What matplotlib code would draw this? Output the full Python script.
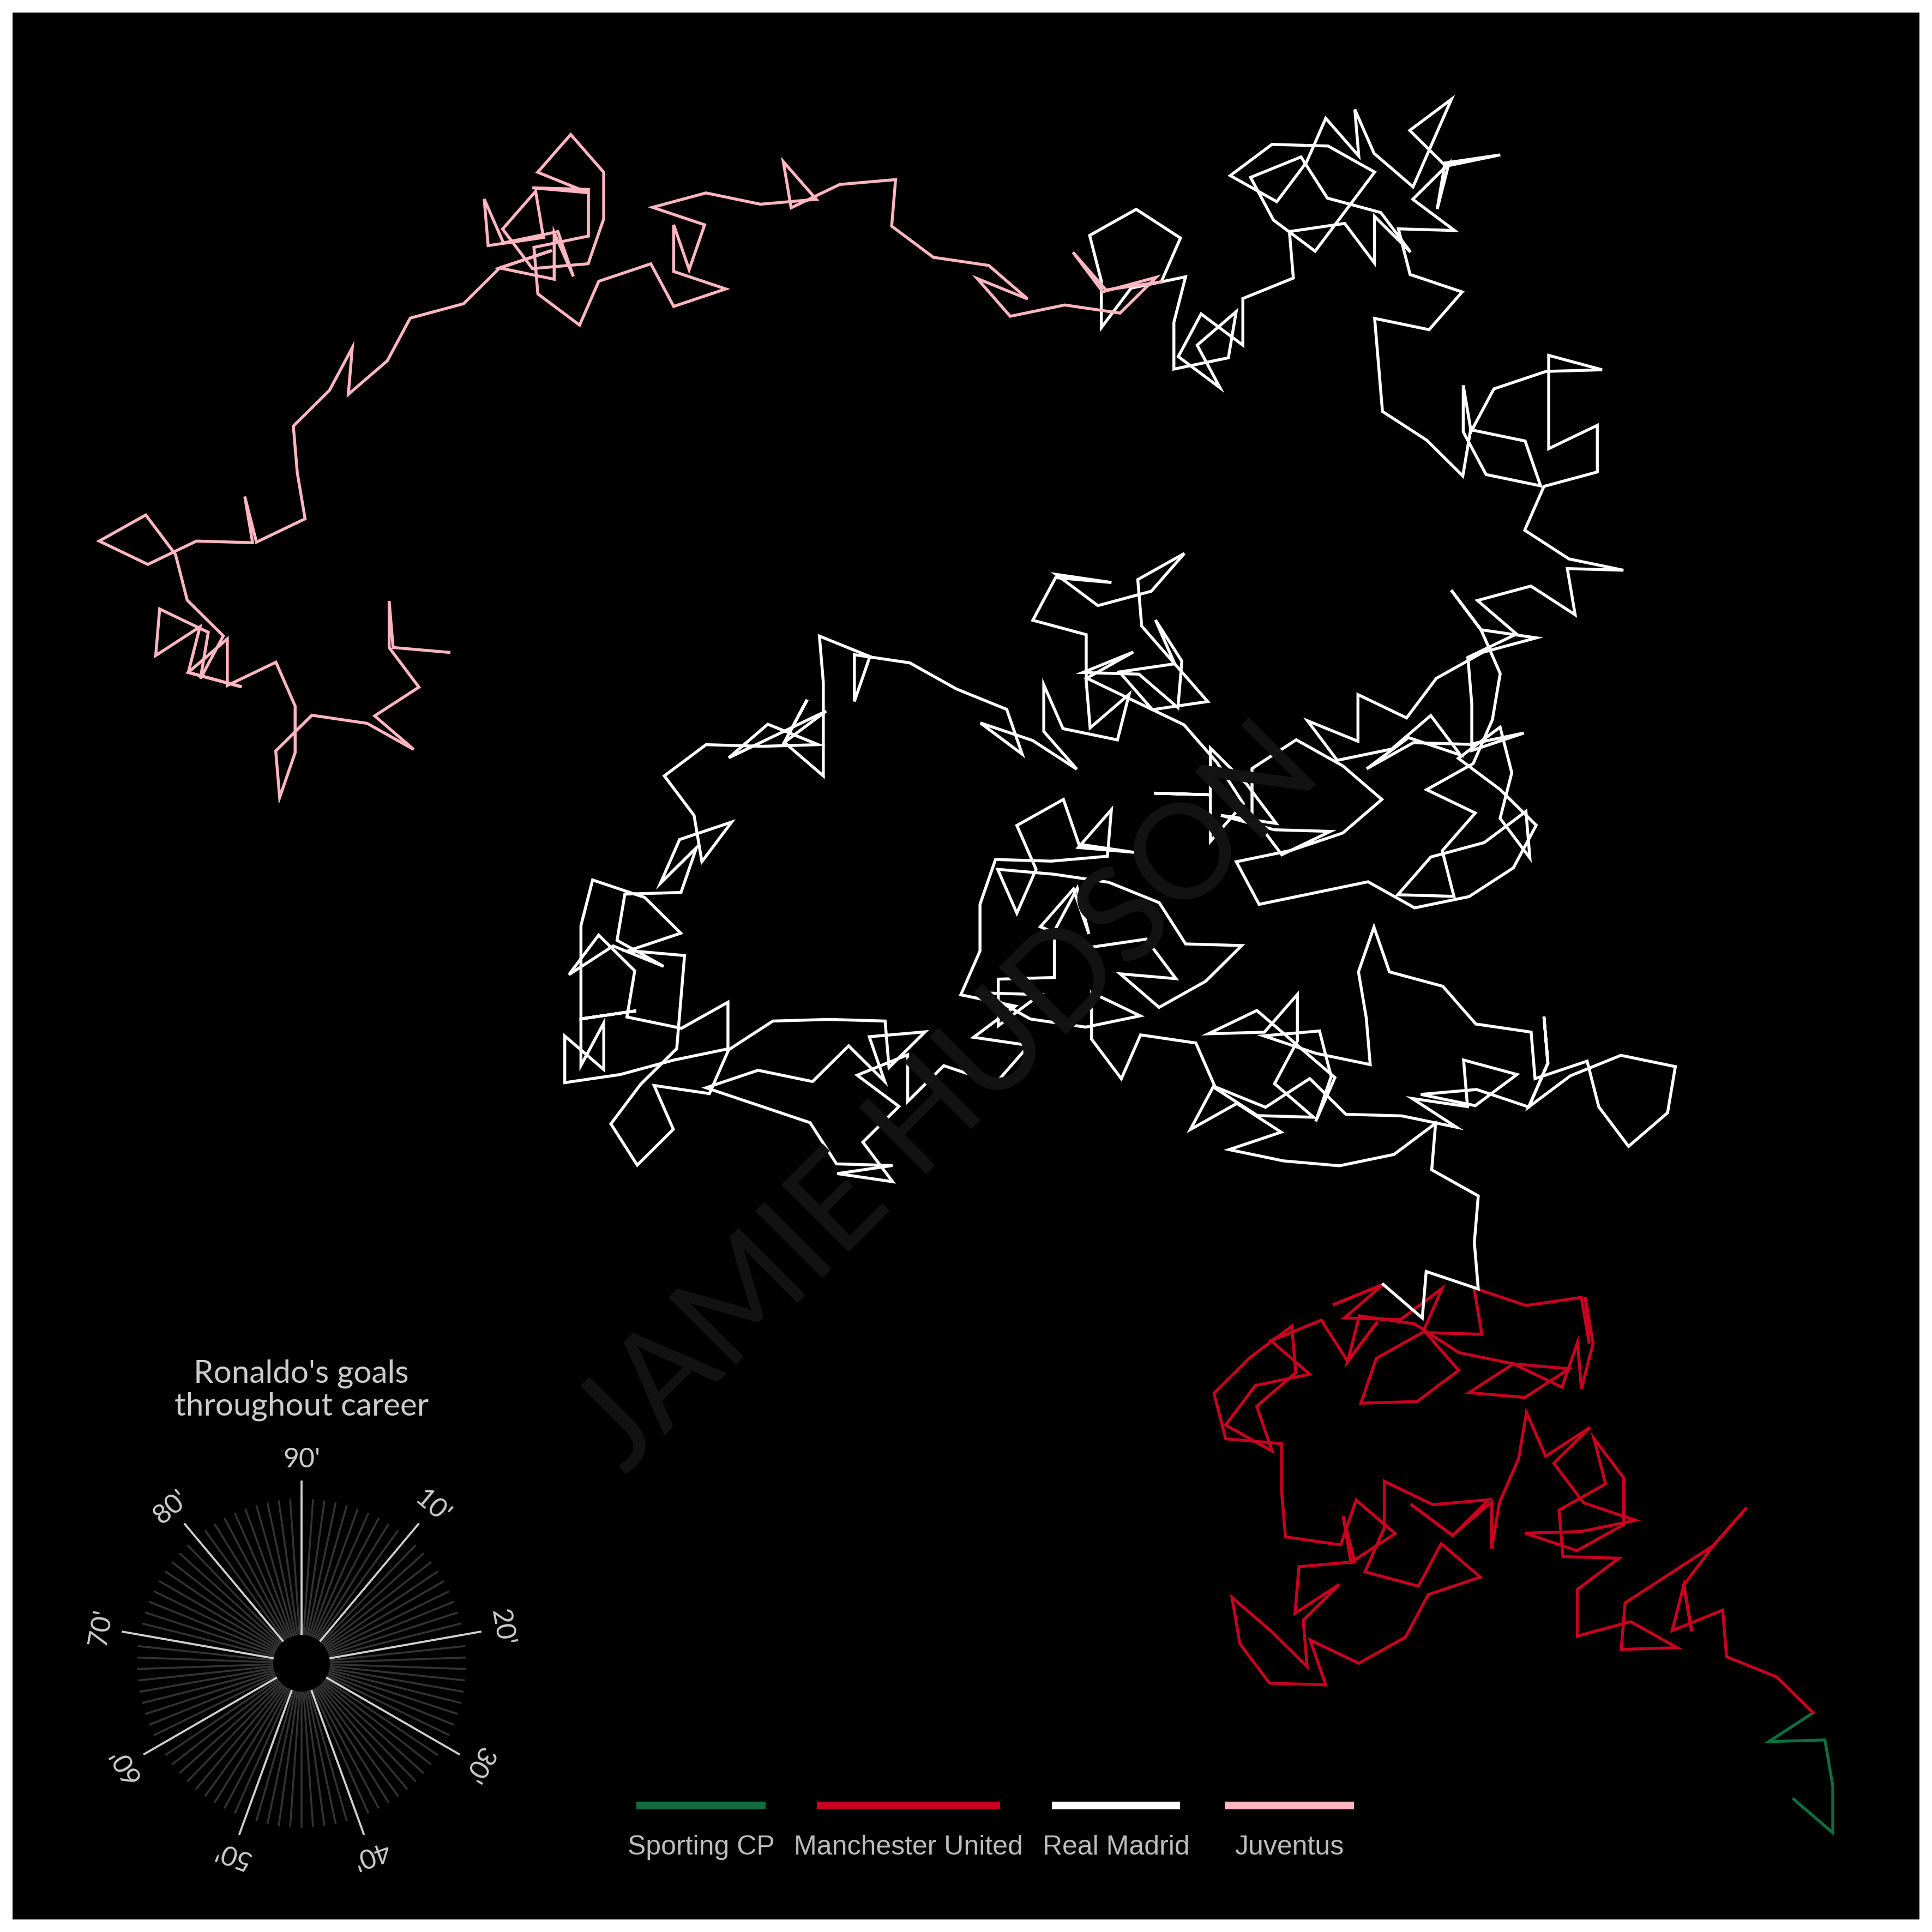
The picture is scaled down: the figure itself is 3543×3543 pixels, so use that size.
import numpy as np
import matplotlib
matplotlib.use("Agg")
import matplotlib.pyplot as plt
from matplotlib.patches import Circle

# minute of each goal, in career order (one step per goal, direction = minute on a 90' clock)
sporting_minutes = [34, 90, 88, 67, 13]
manutd_minutes = [
    80, 74, 89, 61, 3, 43, 88, 8, 9, 54, 58, 58, 46, 22, 76, 63, 90, 12, 68, 89, 14, 87, 37, 45, 59, 73, 22, 19, 73, 82,
    10, 58, 85, 47, 50, 47, 90, 56, 78, 33, 10, 66, 75, 45, 50, 27, 6, 34, 62, 51, 59, 75, 41, 68, 82, 88, 34, 35, 89, 10,
    58, 1, 21, 87, 43, 13, 79, 49, 70, 89, 90, 69, 87, 10, 12, 44, 56, 41, 76, 8, 19, 79, 16, 38, 8, 53, 3, 25, 32, 26,
    24, 58, 69, 13, 30, 4, 44, 3, 88, 44, 88, 65, 73, 43, 68, 36, 57, 67, 4, 14, 5, 57, 68, 11, 61, 16]
real_minutes = [
    34, 1, 28, 89, 1, 76, 1, 57, 64, 69, 71, 17, 77, 59, 6, 32, 23, 79, 6, 90, 54, 67, 15, 34, 34, 50, 4, 87, 66, 28,
    26, 89, 88, 4, 41, 27, 36, 25, 44, 17, 42, 37, 11, 2, 71, 61, 57, 5, 89, 44, 50, 73, 66, 26, 12, 72, 44, 70, 32, 71,
    68, 80, 58, 74, 85, 70, 50, 82, 90, 30, 64, 70, 76, 23, 57, 90, 22, 90, 6, 42, 86, 54, 29, 20, 37, 69, 34, 14, 10, 68,
    83, 74, 70, 69, 40, 5, 85, 14, 41, 25, 69, 9, 46, 66, 68, 49, 45, 50, 26, 57, 25, 54, 73, 55, 90, 61, 33, 55, 37, 70,
    20, 68, 83, 73, 73, 17, 26, 10, 35, 86, 21, 55, 89, 68, 67, 58, 50, 70, 40, 55, 83, 8, 10, 1, 1, 69, 17, 80, 73, 48,
    45, 45, 20, 65, 45, 6, 45, 79, 45, 20, 18, 19, 90, 59, 71, 2, 80, 53, 13, 29, 76, 2, 22, 4, 55, 5, 17, 53, 88, 82,
    12, 23, 22, 74, 56, 15, 15, 57, 6, 51, 34, 90, 90, 89, 29, 49, 90, 25, 31, 29, 41, 78, 28, 32, 81, 90, 40, 26, 3, 56,
    89, 90, 72, 6, 24, 70, 33, 18, 9, 59, 44, 36, 36, 65, 81, 20, 85, 38, 46, 79, 68, 16, 59, 30, 30, 36, 38, 54, 90, 68,
    23, 90, 35, 37, 70, 27, 23, 60, 82, 90, 13, 31, 34, 56, 62, 64, 39, 19, 19, 31, 19, 13, 6, 80, 78, 12, 42, 48, 37, 89,
    57, 63, 54, 23, 87, 9, 75, 14, 5, 2, 85, 82, 37, 25, 63, 59, 53, 75, 45, 74, 37, 19, 11, 37, 73, 57, 14, 23, 19, 62,
    90, 89, 15, 79, 18, 32, 88, 23, 71, 77, 5, 18, 90, 60, 90, 90, 27, 67, 62, 51, 88, 45, 39, 26, 86, 71, 47, 80, 77, 89,
    89, 26, 9, 73, 87, 23, 78, 10, 48, 2, 20, 64, 80, 12, 50, 50, 79, 85, 44, 81, 50, 53, 76, 12, 23, 31, 53, 53, 78, 84,
    16, 38, 27, 37, 80, 45, 82, 65, 44, 61, 45, 78, 51, 33, 84, 11, 47, 64, 90, 3, 64, 53, 90, 87, 14, 32, 50]
juve_minutes = [
    65, 81, 37, 18, 55, 70, 64, 81, 29, 79, 70, 78, 1, 66, 60, 88, 36, 66, 71, 63, 28, 49, 86, 45, 28, 62, 84, 62, 50, 78,
    89, 19, 90, 68, 24, 74, 9, 36, 45, 49, 66, 82, 9, 43, 65, 89, 40, 19, 41, 85, 45, 71, 17, 62, 55, 63, 51, 56, 1, 51,
    55, 44, 43, 60, 87, 43, 68, 60, 75, 14, 37, 42, 35, 51, 2, 75, 46, 13, 48, 27, 72, 11, 45, 15, 40, 45, 49, 89, 10, 25,
    31, 79, 13, 82, 90, 44, 24]

clubs = ["Sporting CP", "Manchester United", "Real Madrid", "Juventus"]
club_colors = ["#0d6e3f", "#c8011e", "#ffffff", "#ffb6c1"]
clock_labels = ["10'", "20'", "30'", "40'", "50'", "60'", "70'", "80'", "90'"]

fig = plt.figure(figsize=(11.81, 11.81), dpi=300, facecolor="white")
m = 23 / 3543
ax = fig.add_axes([m, m, 1 - 2 * m, 1 - 2 * m], facecolor="black")

# walk: every goal is a unit step pointing at its minute (90' = up, clockwise)
all_minutes = [sporting_minutes, manutd_minutes, real_minutes, juve_minutes]
x0, y0 = 0.0, 0.0
xs_all, ys_all = [0.0], [0.0]
for mins, col in zip(all_minutes, club_colors):
    ang = np.radians(np.array(mins) * 4.0)
    xs = np.concatenate([[x0], x0 + np.cumsum(np.sin(ang))])
    ys = np.concatenate([[y0], y0 + np.cumsum(np.cos(ang))])
    ax.plot(xs, ys, color=col, lw=1.3, solid_joinstyle="miter", zorder=3)
    x0, y0 = xs[-1], ys[-1]
    xs_all += list(xs)
    ys_all += list(ys)

xr = max(xs_all) - min(xs_all)
yr = max(ys_all) - min(ys_all)
ax.set_xlim(min(xs_all) - 0.05 * xr, max(xs_all) + 0.05 * xr)
ax.set_ylim(min(ys_all) - 0.05 * yr, max(ys_all) + 0.05 * yr)
ax.set_xticks([])
ax.set_yticks([])
for s in ax.spines.values():
    s.set_visible(False)

# watermark
fig.text(0.491, 0.431, "JAMIE HUDSON", family="Lato", fontsize=58, color="#131313",
         rotation=45, ha="center", va="center", zorder=1)
ax.set_zorder(0)
ax.patch.set_zorder(0)

# clock key
kax = fig.add_axes([0.0339, 0.0169, 0.2444, 0.2444])
kax.set_xlim(-1.3, 1.3)
kax.set_ylim(-1.3, 1.3)
kax.set_aspect("equal")
kax.axis("off")
for minute in range(1, 91):
    a = np.radians(minute * 4)
    kax.plot([0, 0.9 * np.sin(a)], [0, 0.9 * np.cos(a)], color="#333333", lw=0.85, zorder=1)
for i, lab in enumerate(clock_labels):
    minute = (i + 1) * 10
    a = np.radians(minute * 4)
    kax.plot([0, np.sin(a)], [0, np.cos(a)], color="#d0d0d0", lw=0.9, zorder=2)
    kax.text(1.12 * np.sin(a), 1.12 * np.cos(a), lab, family="Lato", fontsize=12, color="#cccccc",
             rotation=-minute * 4, rotation_mode="anchor", ha="center", va="center", clip_on=False)
kax.add_patch(Circle((0, 0), 0.15, color="black", zorder=3))

fig.text(0.156, 0.2806, "Ronaldo's goals\nthroughout career", family="Lato", fontsize=14,
         color="#cccccc", ha="center", va="center", linespacing=1.15)

# club legend
bar_x = [(1167, 1404), (1498, 1834), (1929, 2164), (2246, 2483)]
for (a, b), col, lab in zip(bar_x, club_colors, clubs):
    fig.add_artist(plt.Line2D([a / 3543, b / 3543], [0.0655, 0.0655], color=col, lw=3.4,
                              solid_capstyle="butt", transform=fig.transFigure))
    fig.text((a + b) / 2 / 3543, 0.0438, lab, family="Liberation Sans", fontsize=12,
             color="#bdbdbd", ha="center", va="center")

fig.savefig("out.png", dpi=300, facecolor="white")
